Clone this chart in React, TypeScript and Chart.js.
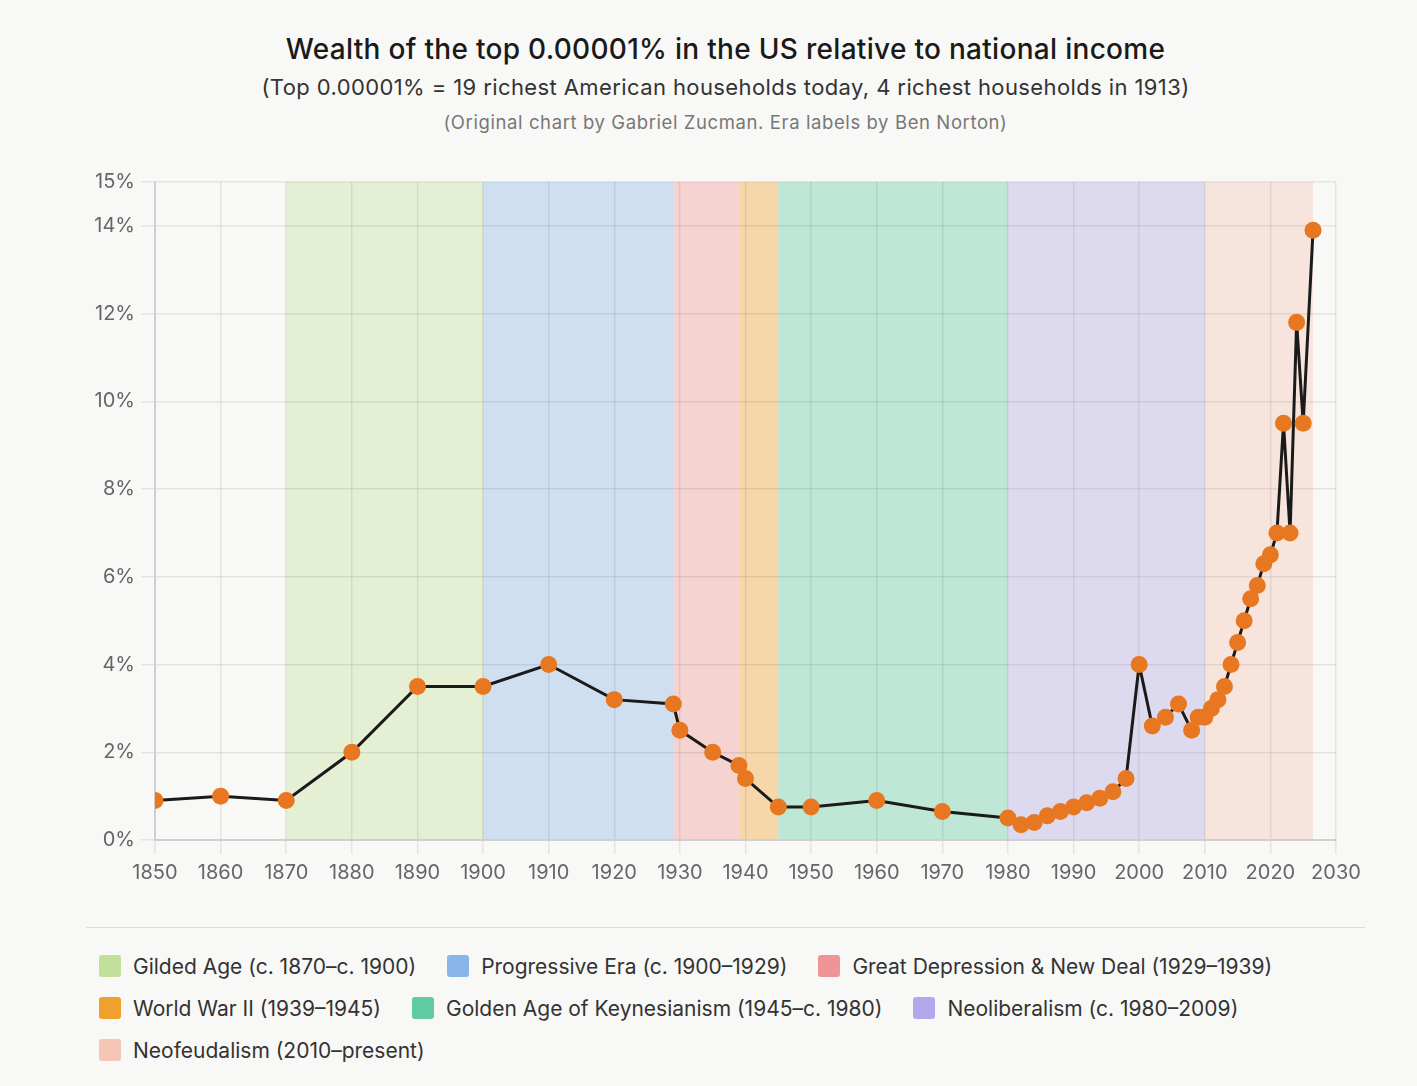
import React, { useEffect, useRef } from "react";
import { Chart, registerables, ChartConfiguration, Plugin } from "chart.js";

Chart.register(...registerables);

// data
const years = [
  1850, 1860, 1870, 1880, 1890, 1900, 1910, 1920, 1929, 1930, 1935, 1939, 1940, 1945, 1950, 1960,
  1970, 1980, 1982, 1984, 1986, 1988, 1990, 1992, 1994, 1996, 1998, 2000, 2002, 2004, 2006, 2008,
  2009, 2010, 2011, 2012, 2013, 2014, 2015, 2016, 2017, 2018, 2019, 2020, 2021, 2022, 2023, 2024,
  2025, 2026.5,
];
const wealthShare = [
  0.9, 1.0, 0.9, 2.0, 3.5, 3.5, 4.0, 3.2, 3.1, 2.5, 2.0, 1.7, 1.4, 0.75, 0.75, 0.9,
  0.65, 0.5, 0.35, 0.4, 0.55, 0.65, 0.75, 0.85, 0.95, 1.1, 1.4, 4.0, 2.6, 2.8, 3.1, 2.5,
  2.8, 2.8, 3.0, 3.2, 3.5, 4.0, 4.5, 5.0, 5.5, 5.8, 6.3, 6.5, 7.0, 9.5, 7.0, 11.8,
  9.5, 13.9,
];

const eraLabels = [
  "Gilded Age (c. 1870–c. 1900)",
  "Progressive Era (c. 1900–1929)",
  "Great Depression & New Deal (1929–1939)",
  "World War II (1939–1945)",
  "Golden Age of Keynesianism (1945–c. 1980)",
  "Neoliberalism (c. 1980–2009)",
  "Neofeudalism (2010–present)",
];
const eraStart = [1870, 1900, 1929, 1939, 1945, 1980, 2010];
const eraEnd = [1900, 1929, 1939, 1945, 1980, 2010, 2026.5];
const eraColors = ["#c2e09a", "#88b5ea", "#f09595", "#f0a02c", "#5ecba4", "#b0a8e8", "#f5c5b5"];

const yTicks = [0, 2, 4, 6, 8, 10, 12, 14, 15];

const FONT = "Inter, 'Noto Sans', sans-serif";
const BG = "#f8f8f6";

const hexToRgba = (hex: string, a: number) => {
  const n = parseInt(hex.slice(1), 16);
  return `rgba(${(n >> 16) & 255}, ${(n >> 8) & 255}, ${n & 255}, ${a})`;
};

// shaded era bands behind the grid
const eraBands: Plugin<"line"> = {
  id: "eraBands",
  beforeDraw(chart) {
    const { ctx, chartArea, scales } = chart;
    const x = scales.x;
    ctx.save();
    eraStart.forEach((s, i) => {
      const x0 = x.getPixelForValue(s);
      const x1 = x.getPixelForValue(eraEnd[i]);
      ctx.fillStyle = hexToRgba(eraColors[i], 0.38);
      ctx.fillRect(x0, chartArea.top, x1 - x0, chartArea.bottom - chartArea.top);
    });
    ctx.restore();
  },
};

const WealthChart = () => {
  const canvasRef = useRef<HTMLCanvasElement | null>(null);

  useEffect(() => {
    document.body.style.margin = "0";
    document.body.style.background = BG;
    if (!canvasRef.current) return;

    const config: ChartConfiguration<"line"> = {
      type: "line",
      data: {
        datasets: [
          {
            data: years.map((yr, i) => ({ x: yr, y: wealthShare[i] })),
            borderColor: "#1a1a1a",
            borderWidth: 3,
            tension: 0,
            pointRadius: 8.5,
            pointBackgroundColor: "#e87722",
            pointBorderWidth: 0,
            pointHoverRadius: 8.5,
          },
        ],
      },
      options: {
        animation: false,
        responsive: false,
        maintainAspectRatio: false,
        layout: { padding: { top: 22, right: 81, left: 0, bottom: 0 } },
        plugins: {
          legend: { display: false },
          tooltip: { enabled: false },
        },
        scales: {
          x: {
            type: "linear",
            min: 1850,
            max: 2030,
            afterFit: (scale) => {
              scale.height = 60;
            },
            ticks: {
              stepSize: 10,
              maxRotation: 0,
              autoSkip: false,
              padding: 7,
              color: "#666",
              font: { family: FONT, size: 20 },
              callback: (v) => String(v),
            },
            grid: { color: "rgba(0,0,0,0.08)", lineWidth: 1.5, tickLength: 14 },
            border: { color: "#cfcfcf", width: 2 },
          },
          y: {
            min: 0,
            max: 15,
            afterFit: (scale) => {
              scale.width = 155;
            },
            afterBuildTicks: (scale) => {
              scale.ticks = yTicks.map((v) => ({ value: v }));
            },
            ticks: {
              padding: 6,
              color: "#666",
              font: { family: FONT, size: 20 },
              callback: (v) => `${v}%`,
            },
            grid: { color: "rgba(0,0,0,0.08)", lineWidth: 1.5, tickLength: 14 },
            border: { color: "#cfcfcf", width: 2 },
          },
        },
      },
      plugins: [eraBands],
    };

    const chart = new Chart(canvasRef.current, config);
    return () => chart.destroy();
  }, []);

  return (
    <canvas
      ref={canvasRef}
      width={1417}
      height={740}
      style={{ position: "absolute", left: 0, top: 160, width: 1417, height: 740 }}
    />
  );
};

const App = () => (
  <div
    style={{
      position: "relative",
      width: 1417,
      height: 1086,
      background: BG,
      fontFamily: FONT,
      overflow: "hidden",
    }}
  >
    <div style={{ position: "absolute", top: 30, left: 34, right: 0, textAlign: "center" }}>
      <div
        style={{
          fontSize: 28,
          fontWeight: 500,
          letterSpacing: 0.3,
          color: "#1a1a1a",
          lineHeight: "38px",
        }}
      >
        Wealth of the top 0.00001% in the US relative to national income
      </div>
      <div style={{ fontSize: 22, letterSpacing: 0.4, color: "#333", lineHeight: "38px" }}>
        (Top 0.00001% = 19 richest American households today, 4 richest households in 1913)
      </div>
      <div style={{ fontSize: 18.5, letterSpacing: 0.6, color: "#777", lineHeight: "32px" }}>
        (Original chart by Gabriel Zucman. Era labels by Ben Norton)
      </div>
    </div>

    <WealthChart />

    <div
      style={{
        position: "absolute",
        top: 927,
        left: 86,
        width: 1279,
        borderTop: "1.5px solid #dcdcda",
      }}
    />
    <div
      style={{
        position: "absolute",
        top: 945,
        left: 99,
        width: 1270,
        display: "flex",
        flexWrap: "wrap",
        columnGap: 31,
        rowGap: 0,
      }}
    >
      {eraLabels.map((label, i) => (
        <div
          key={label}
          style={{ display: "flex", alignItems: "center", height: 42, fontSize: 21, color: "#333" }}
        >
          <span
            style={{
              display: "inline-block",
              width: 22,
              height: 22,
              borderRadius: 3,
              background: eraColors[i],
              marginRight: 12,
            }}
          />
          {label}
        </div>
      ))}
    </div>
  </div>
);

export default App;
